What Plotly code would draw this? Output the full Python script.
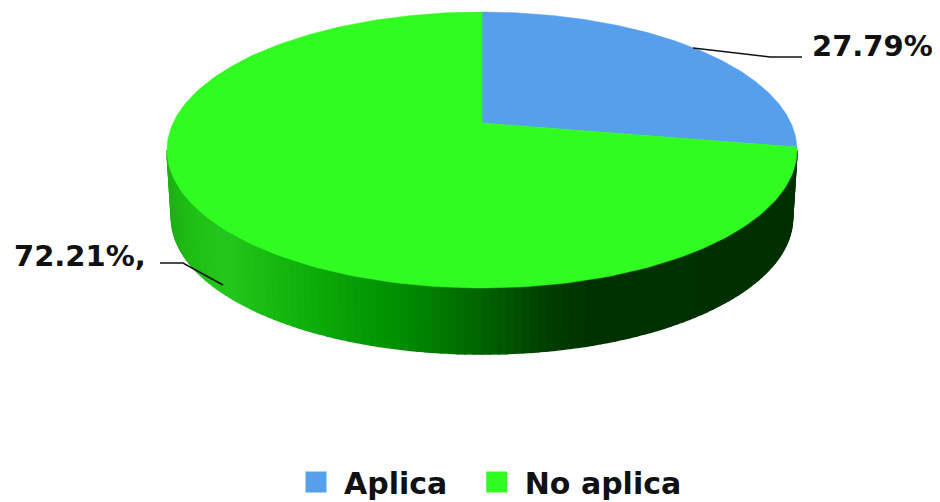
import numpy as np
import plotly.graph_objects as go

categories = ["Aplica", "No aplica"]
percentages = [27.79, 72.21]
label_suffix = ["", ","]
slice_colors = ["#569FEC", "#31FC21"]

# side wall shading: screen x stop -> colour
shade_x = [170, 190, 228, 300, 400, 482, 540, 590, 800]
shade_rgb = [(30, 175, 20), (32, 190, 22), (36, 200, 28), (16, 178, 12), (0, 142, 0),
             (0, 100, 0), (0, 66, 0), (0, 50, 0), (0, 48, 0)]

W, H = 940, 508
PAGE = 8                   # the page's own margin round the figure
CX, VY = 482, 123          # pie vertex on the page
RX, UP, DOWN = 315, 111, 165
DEPTH, SHRINK = 68, 0.986
k = (DOWN - UP) / (DOWN + UP)
s = UP * (1 + k)
A = RX * np.sqrt(1 - k ** 2)


def project(angle):
    X, Y = np.sin(angle), np.cos(angle)
    w = 1 + k * Y
    return CX + A * X / w, VY - s * Y / w


fig = go.Figure()

# side wall
cy = VY + (DOWN - UP) / 2
ry = (DOWN + UP) / 2
edges = np.linspace(np.pi, 2 * np.pi, 121)
for a, b in zip(edges[:-1], edges[1:]):
    ts = np.array([a, b])
    xt, yt = CX + RX * np.cos(ts), cy - ry * np.sin(ts)
    xb, yb = CX + RX * SHRINK * np.cos(ts), cy + DEPTH - ry * SHRINK * np.sin(ts)
    xm = (xt.mean() + xb.mean()) / 2
    col = [int(np.interp(xm, shade_x, [c[i] for c in shade_rgb])) for i in range(3)]
    col = f"rgb({col[0]},{col[1]},{col[2]})"
    fig.add_trace(go.Scatter(
        x=[xt[0], xt[1], xb[1], xb[0], xt[0]], y=[yt[0], yt[1], yb[1], yb[0], yt[0]],
        mode="lines", fill="toself", fillcolor=col, line=dict(color=col, width=1.5),
        showlegend=False, hoverinfo="skip"))

# top face slices from the percentages
start = 0.0
for name, pct, col in zip(categories, percentages, slice_colors):
    angles = np.radians(np.linspace(start, start + pct * 3.6, 200))
    px, py = project(angles)
    fig.add_trace(go.Scatter(
        x=[CX, *px, CX], y=[VY, *py, VY], mode="lines", fill="toself", fillcolor=col,
        line=dict(color=col, width=0.5), showlegend=False, name=name))
    start += pct * 3.6

# legend entries
for name, col in zip(categories, slice_colors):
    fig.add_trace(go.Scatter(
        x=[None], y=[None], mode="markers", name=name + "\u00a0\u2009",
        marker=dict(symbol="square", size=16, color=col, line=dict(color=col, width=5))))

# leader lines
leader_x = [[693, 770, 802], [223, 183, 160]]
leader_y = [[48, 57, 57], [285, 263, 263]]
for lx, ly in zip(leader_x, leader_y):
    fig.add_trace(go.Scatter(x=lx, y=ly, mode="lines", line=dict(color="#111111", width=1.6),
                             showlegend=False, hoverinfo="skip"))

label_x = [811, 13]
label_y = [46, 256]
FONT = "DejaVu Sans"
for pct, suf, x, y in zip(percentages, label_suffix, label_x, label_y):
    fig.add_annotation(x=x, y=y, xref="x", yref="y", xanchor="left", yanchor="middle",
                       text=f"<b>{pct:.2f}%{suf}</b>", showarrow=False, borderpad=0,
                       font=dict(family=FONT, size=29, color="#111111"))

fig.update_layout(
    width=W - PAGE, height=H - PAGE, margin=dict(l=0, r=0, t=0, b=0), autosize=False,
    paper_bgcolor="white", plot_bgcolor="white",
    xaxis=dict(range=[PAGE, W], visible=False),
    yaxis=dict(range=[H, PAGE], visible=False),
    legend=dict(orientation="h", x=(288 - PAGE) / (W - PAGE), xanchor="left", y=0.0, yanchor="bottom",
                font=dict(family=FONT, size=30, color="#111111", weight="bold"),
                bgcolor="rgba(0,0,0,0)", itemwidth=46),
)
fig.write_html("out.html")
